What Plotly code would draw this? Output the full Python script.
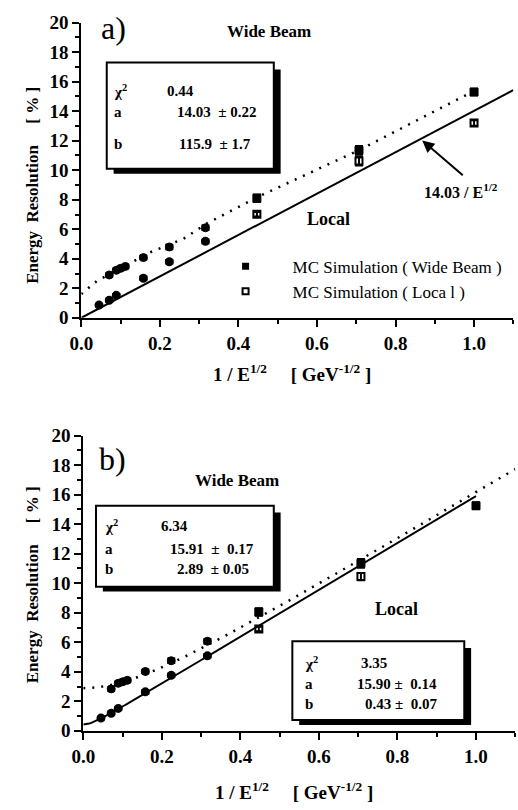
import numpy as np
import plotly.graph_objects as go

W, H = 518, 810
SERIF = "Liberation Serif"

# ---------------- data ----------------
wide_x = [0.071, 0.089, 0.100, 0.112, 0.158, 0.224, 0.316, 0.447, 0.707, 1.000]
wide_y_a = [2.90, 3.22, 3.35, 3.48, 4.08, 4.80, 6.10, 8.10, 11.35, 15.30]
wide_err_a = [0.12, 0.12, 0.12, 0.12, 0.12, 0.15, 0.15, 0.25, 0.30, 0.22]

local_x = [0.045, 0.071, 0.089, 0.158, 0.224, 0.316, 0.447, 0.707, 1.000]
local_y_a = [0.86, 1.19, 1.52, 2.68, 3.80, 5.18, 7.02, 10.62, 13.20]
local_err_a = [0.10, 0.10, 0.10, 0.12, 0.12, 0.12, 0.15, 0.30, 0.18]

wide_y_b = [2.84, 3.22, 3.32, 3.42, 4.02, 4.75, 6.07, 8.05, 11.35, 15.25]
wide_err_b = [0.12, 0.12, 0.12, 0.12, 0.12, 0.15, 0.15, 0.25, 0.30, 0.22]
local_x_b = [0.045, 0.071, 0.089, 0.158, 0.224, 0.316, 0.447, 0.707]
local_y_b = [0.86, 1.19, 1.52, 2.64, 3.76, 5.08, 6.90, 10.45]
local_err_b = [0.10, 0.10, 0.10, 0.12, 0.12, 0.12, 0.15, 0.25]

# dotted fit curve of panel a
dotfit_x_a = [0.0, 0.01, 0.04, 0.10, 0.18, 0.26, 0.32, 0.45, 0.71, 0.98]
dotfit_y_a = [1.60, 1.85, 2.50, 3.35, 4.50, 5.35, 6.40, 8.20, 11.40, 15.10]

# fit parameters
a_line = 14.03
fit_wide_b = (15.91, 2.89)
fit_local_b = (15.90, 0.43)

xticks = [0.0, 0.2, 0.4, 0.6, 0.8, 1.0]
yticks = list(range(0, 21, 2))
legend_names = ["MC Simulation ( Wide Beam )", "MC Simulation ( Loca l )"]


def px(x):
    return x / W


def py(y):
    return 1 - y / H


fig = go.Figure()

# panel a traces
fig.add_trace(go.Scatter(x=[0, 1.1], y=[0, a_line * 1.1], mode="lines",
                         line=dict(color="black", width=2), showlegend=False,
                         xaxis="x", yaxis="y"))
fig.add_trace(go.Scatter(x=dotfit_x_a, y=dotfit_y_a, mode="lines",
                         line=dict(color="black", width=2.5, dash="2px,7px"),
                         showlegend=False, xaxis="x", yaxis="y"))


def symbols(xs, hi_sym):
    return ["circle" if v < 0.4 else hi_sym for v in xs]


fig.add_trace(go.Scatter(
    x=wide_x, y=wide_y_a, mode="markers", showlegend=False,
    marker=dict(symbol=symbols(wide_x, "square"), size=8, color="black",
                line=dict(color="black", width=1)),
    error_y=dict(type="data", array=wide_err_a, color="black", thickness=2, width=4),
    xaxis="x", yaxis="y"))
fig.add_trace(go.Scatter(
    x=local_x, y=local_y_a, mode="markers", showlegend=False,
    marker=dict(symbol=symbols(local_x, "square-open"), size=7, color="black",
                line=dict(color="black", width=2)),
    error_y=dict(type="data", array=local_err_a, color="black", thickness=2, width=4),
    xaxis="x", yaxis="y"))

# legend-only entries
fig.add_trace(go.Scatter(x=[None], y=[None], mode="markers", name=legend_names[0],
                         marker=dict(symbol="square", size=7, color="black"),
                         xaxis="x", yaxis="y"))
fig.add_trace(go.Scatter(x=[None], y=[None], mode="markers", name=legend_names[1],
                         marker=dict(symbol="square-open", size=6, color="black",
                                     line=dict(color="black", width=2)),
                         xaxis="x", yaxis="y"))

# panel b traces
xb = np.linspace(0, 1.1, 200)
xs_b = np.linspace(0, 1.0, 200)
fig.add_trace(go.Scatter(x=xs_b, y=np.sqrt((fit_local_b[0] * xs_b) ** 2 + fit_local_b[1] ** 2),
                         mode="lines", line=dict(color="black", width=2),
                         showlegend=False, xaxis="x2", yaxis="y2"))
fig.add_trace(go.Scatter(x=xb, y=np.sqrt((fit_wide_b[0] * xb) ** 2 + fit_wide_b[1] ** 2),
                         mode="lines", line=dict(color="black", width=2.5, dash="2px,7px"),
                         showlegend=False, xaxis="x2", yaxis="y2"))
fig.add_trace(go.Scatter(
    x=wide_x, y=wide_y_b, mode="markers", showlegend=False,
    marker=dict(symbol=symbols(wide_x, "square"), size=8, color="black",
                line=dict(color="black", width=1)),
    error_y=dict(type="data", array=wide_err_b, color="black", thickness=2, width=4),
    xaxis="x2", yaxis="y2"))
fig.add_trace(go.Scatter(
    x=local_x_b, y=local_y_b, mode="markers", showlegend=False,
    marker=dict(symbol=symbols(local_x_b, "square-open"), size=7, color="black",
                line=dict(color="black", width=2)),
    error_y=dict(type="data", array=local_err_b, color="black", thickness=2, width=4),
    xaxis="x2", yaxis="y2"))

tickfont = dict(family=SERIF, size=19, color="black", weight="bold")
axis_common = dict(showline=True, linewidth=2, linecolor="black", ticks="outside",
                   ticklen=7, tickwidth=2, tickcolor="black", showgrid=False,
                   zeroline=False, tickfont=tickfont)

fig.update_layout(
    width=W, height=H, margin=dict(l=0, r=0, t=0, b=0),
    paper_bgcolor="white", plot_bgcolor="white",
    xaxis=dict(domain=[px(71), px(71 + 402 * 1.1)], range=[0, 1.1], anchor="y",
               tickvals=xticks, ticktext=[f"{v:.1f}" for v in xticks],
               minor=dict(dtick=0.1, tick0=0, ticks="outside", ticklen=4, tickwidth=2,
                          tickcolor="black"), **axis_common),
    yaxis=dict(domain=[py(316), py(13)], range=[0, 20], anchor="x",
               tickvals=yticks,
               minor=dict(dtick=1, tick0=0, ticks="outside", ticklen=4, tickwidth=2,
                          tickcolor="black"), **axis_common),
    xaxis2=dict(domain=[px(73), px(73 + 402 * 1.1)], range=[0, 1.1], anchor="y2",
                tickvals=xticks, ticktext=[f"{v:.1f}" for v in xticks],
                minor=dict(dtick=0.1, tick0=0, ticks="outside", ticklen=4, tickwidth=2,
                           tickcolor="black"), **axis_common),
    yaxis2=dict(domain=[py(740), py(437)], range=[0, 20], anchor="x2",
                tickvals=yticks,
                minor=dict(dtick=1, tick0=0, ticks="outside", ticklen=4, tickwidth=2,
                           tickcolor="black"), **axis_common),
    legend=dict(x=px(191), y=py(245), xanchor="left", yanchor="top",
                font=dict(family=SERIF, size=17, color="black"),
                bgcolor="rgba(0,0,0,0)", itemwidth=84, tracegroupgap=0),
    showlegend=True,
)

shapes = []


def box(x0, y0, x1, y1, sh=7):
    shapes.append(dict(type="rect", xref="paper", yref="paper",
                       x0=px(x0 + sh), x1=px(x1 + sh), y0=py(y1 + sh - 2), y1=py(y0 + sh),
                       fillcolor="black", line=dict(width=0)))
    shapes.append(dict(type="rect", xref="paper", yref="paper",
                       x0=px(x0), x1=px(x1), y0=py(y1), y1=py(y0),
                       fillcolor="white", line=dict(color="black", width=2)))


box(97, 54, 268, 163)
box(86, 509, 268, 592)
box(287, 648, 463, 729)
fig.update_layout(shapes=shapes)

ann = []


def text(x, y, s, size=15, bold=True, xanchor="center", family=SERIF):
    ann.append(dict(x=px(x), y=py(y), xref="paper", yref="paper", text=s, showarrow=False,
                    xanchor=xanchor, yanchor="middle",
                    font=dict(family=family, size=size, color="black",
                              weight="bold" if bold else "normal")))


# panel a texts
text(104, 18, "a)", size=32, bold=False)
text(263, 22, "Wide Beam", size=17)
text(102, 83, "χ<sup>2</sup>", xanchor="left")
text(157, 83, "0.44", xanchor="left")
text(102, 105, "a", xanchor="left")
text(252, 105, "14.03 &nbsp;± 0.22", xanchor="right")
text(102, 138, "b", xanchor="left")
text(247, 138, "115.9 &nbsp;± 1.7", xanchor="right")
text(460, 186, "14.03 / E<sup>1/2</sup>", size=16)
text(324, 215, "Local", size=18)
text(287, 373, "1 / E<sup>1/2</sup> &nbsp; &nbsp; [ GeV<sup>-1/2</sup> ]", size=19)
ann.append(dict(x=px(21), y=py(180), xref="paper", yref="paper",
                text="Energy &nbsp;Resolution &nbsp; &nbsp; [ % ]", textangle=-90,
                showarrow=False, xanchor="center", yanchor="middle",
                font=dict(family=SERIF, size=17, color="black", weight="bold")))
ann.append(dict(x=px(420), y=py(134), xref="paper", yref="paper", text="",
                showarrow=True, ax=42, ay=36, arrowhead=2, arrowsize=1.2,
                arrowwidth=2, arrowcolor="black"))

# panel b texts
text(103, 461, "b)", size=32, bold=False)
text(230, 483, "Wide Beam", size=17)
text(93, 530, "χ<sup>2</sup>", xanchor="left")
text(150, 530, "6.34", xanchor="left")
text(93, 553, "a", xanchor="left")
text(250, 553, "15.91 &nbsp;± &nbsp;0.17", xanchor="right")
text(93, 574, "b", xanchor="left")
text(245, 574, "2.89 &nbsp;± 0.05", xanchor="right")
text(394, 615, "Local", size=18)
text(298, 670, "χ<sup>2</sup>", xanchor="left")
text(355, 670, "3.35", xanchor="left")
text(298, 692, "a", xanchor="left")
text(437, 692, "15.90 ± &nbsp;0.14", xanchor="right")
text(298, 712, "b", xanchor="left")
text(437, 712, "0.43 ± &nbsp;0.07", xanchor="right")
text(289, 802, "1 / E<sup>1/2</sup> &nbsp; &nbsp; [ GeV<sup>-1/2</sup> ]", size=19)
ann.append(dict(x=px(21), y=py(590), xref="paper", yref="paper",
                text="Energy &nbsp;Resolution &nbsp; &nbsp; [ % ]", textangle=-90,
                showarrow=False, xanchor="center", yanchor="middle",
                font=dict(family=SERIF, size=17, color="black", weight="bold")))

fig.update_layout(annotations=ann)
fig.write_html("out.html")
